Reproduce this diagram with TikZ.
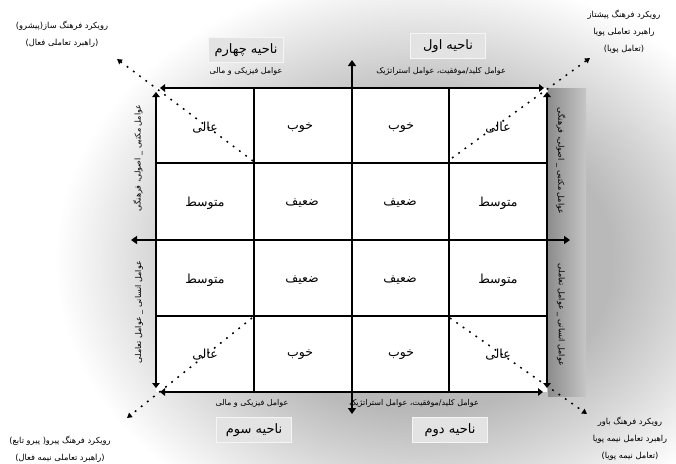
\documentclass[tikz,border=0pt]{standalone}
\usepackage{fontspec}
\usetikzlibrary{arrows.meta}
\newfontfamily\arfont[Script=Arabic]{DejaVu Sans}
\TeXXeTstate=1
\newcommand{\fatext}[1]{\beginR #1\endR}
\pgfdeclareradialshading{bgshade}{\pgfpoint{0bp}{0bp}}{color(0bp)=(gray!55); color(10bp)=(gray!55); color(19bp)=(white); color(50bp)=(white)}
\tikzset{
  cell/.style={font=\arfont\fontsize{12.5}{14}\selectfont, inner sep=1pt},
  corner/.style={font=\arfont\fontsize{8.3}{17}\selectfont, align=center, inner sep=1pt},
  axis/.style={font=\arfont\fontsize{8}{9}\selectfont, inner sep=1pt},
  region/.style={font=\arfont\fontsize{13}{15}\selectfont, fill=gray!22, draw=gray!8, line width=0.8pt, minimum width=75pt, minimum height=25pt, inner sep=2pt},
  bigline/.style={line width=2.6pt, {Triangle[width=8pt,length=6pt]}-{Triangle[width=8pt,length=6pt]}},
  border/.style={line width=2.8pt, {Triangle[width=7.5pt,length=5pt]}-{Triangle[width=7.5pt,length=5pt]}},
  gridline/.style={line width=1.3pt},
  diag/.style={line width=1.5pt, dash pattern=on 1.8pt off 6pt, -{Triangle[width=5.5pt,length=5pt]}}
}
\begin{document}
\begin{tikzpicture}[x=1pt,y=-1pt]
\useasboundingbox (0,0) rectangle (676,463);
% background
\begin{scope}
\clip (0,0) rectangle (676,463);
\fill[white] (0,0) rectangle (676,463);
\shade[shading=bgshade] (-60,-120) rectangle (900,640);
\shade[left color=gray!90, right color=gray!45] (548,88) rectangle (586,396);
\end{scope}
% corners of grid
\coordinate (tl) at (156,88);
\coordinate (tr) at (547,88);
\coordinate (bl) at (156,392);
\coordinate (br) at (547,392);
\fill[white] (tl) rectangle (br);
% inner grid lines
\coordinate (g1t) at (254,88); \coordinate (g1b) at (254,392);
\coordinate (g3t) at (449,88); \coordinate (g3b) at (449,392);
\coordinate (h1l) at (156,163); \coordinate (h1r) at (547,163);
\coordinate (h3l) at (156,316); \coordinate (h3r) at (547,316);
\draw[gridline] (g1t) -- (g1b);
\draw[gridline] (g3t) -- (g3b);
\draw[gridline] (h1l) -- (h1r);
\draw[gridline] (h3l) -- (h3r);
% cell texts
\node[cell] (c11) at (205,128) {\fatext{عالی}};
\node[cell] (c12) at (300,128) {\fatext{خوب}};
\node[cell] (c13) at (401,128) {\fatext{خوب}};
\node[cell] (c14) at (498,128) {\fatext{عالی}};
\node[cell] (c21) at (205,203) {\fatext{متوسط}};
\node[cell] (c22) at (302,203) {\fatext{ضعیف}};
\node[cell] (c23) at (400,203) {\fatext{ضعیف}};
\node[cell] (c24) at (498,203) {\fatext{متوسط}};
\node[cell] (c31) at (205,280) {\fatext{متوسط}};
\node[cell] (c32) at (302,280) {\fatext{ضعیف}};
\node[cell] (c33) at (400,280) {\fatext{ضعیف}};
\node[cell] (c34) at (498,280) {\fatext{متوسط}};
\node[cell] (c41) at (205,355) {\fatext{عالی}};
\node[cell] (c42) at (300,355) {\fatext{خوب}};
\node[cell] (c43) at (401,355) {\fatext{خوب}};
\node[cell] (c44) at (498,355) {\fatext{عالی}};
% dotted diagonals
\coordinate (d4in) at (253,161); \coordinate (d4out) at (117,59);
\coordinate (d1in) at (452,158); \coordinate (d1out) at (590,58);
\coordinate (d3in) at (252,318); \coordinate (d3out) at (127,418);
\coordinate (d2in) at (450,318); \coordinate (d2out) at (587,414);
\draw[diag] (d4in) -- (d4out);
\draw[diag] (d1in) -- (d1out);
\draw[diag] (d3in) -- (d3out);
\draw[diag] (d2in) -- (d2out);
% border arrows
\coordinate (bt1) at (160,88); \coordinate (bt2) at (544,88);
\coordinate (bb1) at (160,392); \coordinate (bb2) at (543,392);
\coordinate (bl1) at (156,92); \coordinate (bl2) at (156,388);
\coordinate (br1) at (547,92); \coordinate (br2) at (547,388);
\draw[border] (bt1) -- (bt2);
\draw[border] (bb1) -- (bb2);
\draw[border] (bl1) -- (bl2);
\draw[border] (br1) -- (br2);
% central cross
\coordinate (vt) at (352,60); \coordinate (vb) at (352,414);
\coordinate (hl) at (131,240); \coordinate (hr) at (570,240);
\draw[bigline] (vb) -- (vt);
\draw[bigline] (hl) -- (hr);
% axis labels
\node[axis] (ax4) at (246,71) {\fatext{عوامل فیزیکی و مالی}};
\node[axis] (ax1) at (441,71) {\fatext{عوامل کلید/موفقیت، عوامل استراتژیک}};
\node[axis] (ax3) at (252,403) {\fatext{عوامل فیزیکی و مالی}};
\node[axis] (ax2) at (414,403) {\fatext{عوامل کلید/موفقیت، عوامل استراتژیک}};
\node[axis, rotate=90] (axl1) at (138,158) {\fatext{عوامل مکتبی \_ اصولی، فرهنگی}};
\node[axis, rotate=90] (axl2) at (139,312) {\fatext{عوامل انسانی \_ عوامل تعاملی}};
\node[axis, rotate=-90] (axr1) at (561,161) {\fatext{عوامل مکتبی \_ اصولی، فرهنگی}};
\node[axis, rotate=-90] (axr2) at (561,315) {\fatext{عوامل انسانی \_ عوامل تعاملی}};
% region boxes
\node[region] (r4) at (246,50) {\fatext{ناحیه چهارم}};
\node[region] (r1) at (448,46) {\fatext{ناحیه اول}};
\node[region] (r3) at (254,430) {\fatext{ناحیه سوم}};
\node[region] (r2) at (450,430) {\fatext{ناحیه دوم}};
% corner labels
\node[corner] (k4) at (62,34) {\fatext{رویکرد فرهنگ ساز(پیشرو)}\\\fatext{(راهبرد تعاملی فعال)}};
\node[corner] (k1) at (624,32) {\fatext{رویکرد فرهنگ پیشتاز}\\\fatext{راهبرد تعاملی پویا}\\\fatext{(تعامل پویا)}};
\node[corner] (k3) at (60,449) {\fatext{رویکرد فرهنگ پیرو( پیرو تابع)}\\\fatext{(راهبرد تعاملی نیمه فعال)}};
\node[corner] (k2) at (630,439) {\fatext{رویکرد فرهنگ باور}\\\fatext{راهبرد تعامل نیمه پویا}\\\fatext{(تعامل نیمه پویا)}};
\end{tikzpicture}
\end{document}
